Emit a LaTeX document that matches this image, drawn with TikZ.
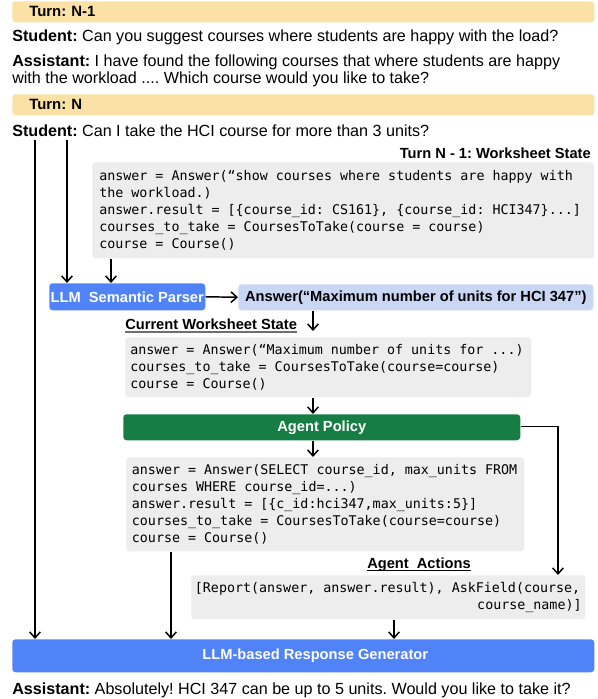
\documentclass[tikz,border=0pt]{standalone}
\usepackage{fontspec}
\setmainfont{Liberation Sans}
\setmonofont{DejaVu Sans Mono}
\usetikzlibrary{arrows.meta,calc}
\definecolor{turnbg}{HTML}{FCE1A6}
\definecolor{llmblue}{HTML}{5183F8}
\definecolor{ansblue}{HTML}{C9D6F4}
\definecolor{polgreen}{HTML}{167E45}
\definecolor{codegray}{HTML}{EDEDED}
\definecolor{ulgray}{HTML}{6E6E6E}
\newcommand{\codefont}{\ttfamily\fontsize{10}{12.75}\selectfont}
\newcommand{\monosp}{\spaceskip=6.02pt\relax\xspaceskip=6.02pt\relax}
\tikzset{
  bodytxt/.style={inner sep=0pt, anchor=base west, font=\fontsize{12.1}{14}\selectfont},
  lbltxt/.style={inner sep=0pt, anchor=base west, font=\fontsize{11}{13}\selectfont\bfseries},
  turnbar/.style={fill=turnbg, rounded corners=2.5pt, anchor=north west, align=left,
    inner xsep=12.75pt, inner ysep=0pt, text width=411pt, minimum height=15.75pt,
    font=\fontsize{11.2}{13}\selectfont\bfseries},
  codebox/.style={fill=codegray, rounded corners=2.5pt, anchor=north west, align=left,
    inner ysep=0pt, font=\codefont},
  colbox/.style={rounded corners=2.5pt, anchor=north west, inner sep=0pt,
    font=\fontsize{11}{13}\selectfont\bfseries},
  arr/.style={-{Straight Barb[length=4.5pt,width=8pt,line width=1.1pt]}, line width=1.1pt},
}
\begin{document}
\frenchspacing
\begin{tikzpicture}[x=0.75pt,y=-0.75pt]
\useasboundingbox (0,0) rectangle (597,699);

% Turn N-1
\node[turnbar] (bar1) at (12,1) {Turn: N-1};
\node[bodytxt] (s1) at (12,42) {\textbf{Student:} Can you suggest courses where students are happy with the load?};
\node[bodytxt] (a1) at (12,66) {\textbf{Assistant:} I have found the following courses that where students are happy};
\node[bodytxt] (a1b) at (12,84) {with the workload .... Which course would you like to take?};

% Turn N
\node[turnbar] (bar2) at (12,94) {Turn: N};
\node[bodytxt] (s2) at (12,136) {\textbf{Student:} Can I take the HCI course for more than 3 units?};

% Previous worksheet state
\node[lbltxt, anchor=base east] (wsl1) at (591,158) {Turn N - 1: Worksheet State};
\node[codebox, inner xsep=5.25pt, text width=366pt, minimum height=72pt] (ws1) at (92,162)
 {\monosp answer = Answer(“show courses where students are happy with\\
  the workload.)\\
  answer.result = [\{course\_id: CS161\}, \{course\_id: HCI347\}...]\\
  courses\_to\_take = CoursesToTake(course = course)\\
  course = Course()};

% Semantic parser
\node[colbox, fill=llmblue, text=white, minimum width=117pt, minimum height=20.25pt] (parser) at (49,283)
 {LLM\hspace{0.55em}Semantic Parser};
\node[colbox, fill=ansblue, text=black, minimum width=266.25pt, minimum height=19.5pt] (ans) at (238,284)
 {Answer(“Maximum number of units for HCI 347”)};

% Current worksheet state
\node[lbltxt] (cwsl) at (125,329) {Current Worksheet State};
\draw[ulgray, line width=1.4pt] ([yshift=-2pt]cwsl.base west) -- ([yshift=-2pt]cwsl.base east);
\node[codebox, inner xsep=3.75pt, text width=297pt, minimum height=45pt] (ws2) at (125,337)
 {\monosp answer = Answer(“Maximum number of units for ...)\\
  courses\_to\_take = CoursesToTake(course=course)\\
  course = Course()};

% Agent policy
\node[colbox, fill=polgreen, text=white, minimum width=297.75pt, minimum height=19.5pt] (policy) at (123,414)
 {Agent Policy\hspace{10pt}};

\node[codebox, inner xsep=4.25pt, text width=290pt, minimum height=70.5pt] (ws3) at (126,457)
 {\monosp answer = Answer(SELECT course\_id, max\_units FROM\\
  courses WHERE course\_id=...)\\
  answer.result = [\{c\_id:hci347,max\_units:5\}]\\
  courses\_to\_take = CoursesToTake(course=course)\\
  course = Course()};

% Agent actions
\node[lbltxt] (aal) at (367,568) {Agent\hspace{0.55em}Actions};
\draw[black, line width=1.1pt] ([yshift=-2pt]aal.base west) -- ([yshift=-2pt]aal.base east);
\node[codebox, inner xsep=2.75pt, text width=290pt, minimum height=33pt] (acts) at (191,575)
 {\monosp [Report(answer, answer.result), AskField(course,\\
  \hbox to \linewidth{\hfill course\_name)]}};

% Response generator
\node[colbox, fill=llmblue, text=white, minimum width=436.5pt, minimum height=24.75pt] (resp) at (12,639)
 {\hspace{18pt}LLM-based Response Generator};
\node[bodytxt] (a2) at (12,694) {\textbf{Assistant:} Absolutely! HCI 347 can be up to 5 units. Would you like to take it?};

% connector x positions
\coordinate (lx1) at (35,0);
\coordinate (lx2) at (67,0);
\coordinate (ax1) at (111,0);
\coordinate (cx) at (313,0);
\coordinate (rx) at (558,0);
\coordinate (bx) at (171,0);
\coordinate (ax2) at (394,0);

\draw[arr] ([yshift=-3pt]s2.south -| lx1) -- (resp.north -| lx1);
\draw[arr] ([yshift=-3pt]s2.south -| lx2) -- (parser.north -| lx2);
\draw[arr] (ws1.south -| ax1) -- (parser.north -| ax1);
\draw[arr] (parser.east) -- (ans.west);
\draw[arr, shorten >=4.5pt] (ans.south -| cx) -- (ws2.north -| cx);
\draw[arr] (ws2.south -| cx) -- (policy.north -| cx);
\draw[arr] (policy.south -| cx) -- (ws3.north -| cx);
\draw[arr] ([yshift=0.75pt]policy.east) -| (acts.north -| rx);
\draw[arr] (ws3.south -| bx) -- (resp.north -| bx);
\draw[arr] (acts.south -| ax2) -- (resp.north -| ax2);
\end{tikzpicture}
\end{document}
